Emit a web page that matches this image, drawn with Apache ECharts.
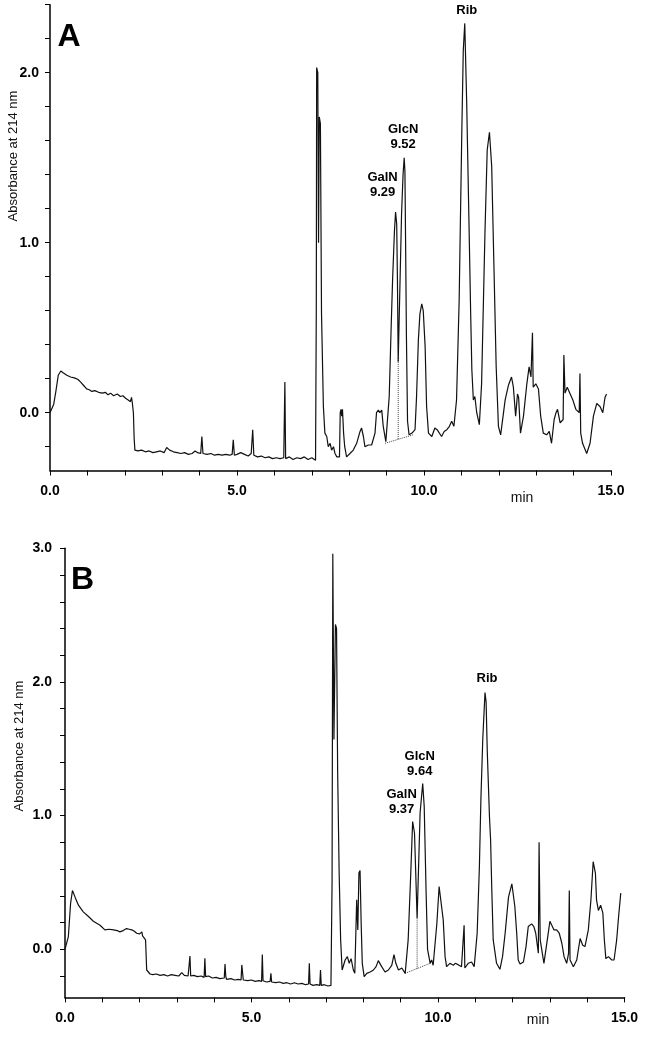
<!DOCTYPE html>
<html><head><meta charset="utf-8">
<script src="https://cdn.jsdelivr.net/npm/echarts@6/dist/echarts.min.js"></script>
<style>html,body{margin:0;padding:0;background:#fff}#c{width:669px;height:1050px}</style>
</head><body><div id="c"></div>
<script>
// ---- Panel A trace: [time (min), absorbance at 214 nm]
const traceA = [
[0.00,0.00],[0.05,0.01],[0.10,0.05],[0.16,0.13],[0.22,0.22],[0.29,0.245],[0.35,0.235],[0.45,0.22],[0.55,0.21],[0.65,0.205],[0.75,0.195],[0.82,0.18],[0.90,0.16],[0.98,0.14],[1.05,0.135],[1.12,0.125],[1.20,0.13],[1.30,0.12],[1.40,0.115],[1.48,0.12],[1.55,0.105],[1.62,0.115],[1.70,0.10],[1.80,0.11],[1.88,0.095],[1.95,0.10],[2.02,0.085],[2.09,0.075],[2.15,0.065],[2.18,0.09],[2.20,0.06],[2.23,0.0],[2.25,-0.15],[2.27,-0.22],
[2.35,-0.225],[2.45,-0.22],[2.55,-0.23],[2.65,-0.225],[2.75,-0.235],[2.85,-0.23],[2.95,-0.225],[3.05,-0.235],[3.12,-0.205],[3.20,-0.22],[3.30,-0.23],[3.40,-0.235],[3.50,-0.24],[3.60,-0.235],[3.70,-0.245],[3.80,-0.24],[3.88,-0.225],[3.95,-0.235],[4.03,-0.24],[4.06,-0.14],[4.09,-0.24],[4.20,-0.245],[4.30,-0.24],[4.40,-0.25],[4.50,-0.245],[4.60,-0.25],[4.70,-0.245],[4.80,-0.25],[4.87,-0.245],[4.90,-0.16],[4.93,-0.25],[5.00,-0.245],[5.10,-0.235],[5.20,-0.245],[5.30,-0.255],[5.38,-0.24],[5.42,-0.10],[5.45,-0.25],[5.55,-0.26],[5.65,-0.255],[5.75,-0.265],[5.85,-0.26],[5.95,-0.27],[6.05,-0.265],[6.15,-0.27],[6.25,-0.265],[6.27,-0.27],[6.28,0.18],[6.30,-0.27],[6.40,-0.26],[6.50,-0.275],[6.60,-0.265],[6.70,-0.27],[6.80,-0.26],[6.90,-0.275],[7.00,-0.265],[7.10,-0.28],
[7.12,0.6],[7.13,2.03],[7.16,2.0],[7.18,1.0],[7.20,1.74],[7.23,1.70],[7.26,0.58],[7.31,0.035],[7.35,-0.12],[7.40,-0.14],[7.44,-0.20],[7.49,-0.18],[7.53,-0.22],[7.58,-0.20],[7.62,-0.24],[7.67,-0.26],[7.74,-0.26],[7.76,0.0],[7.78,0.02],[7.80,-0.02],[7.82,0.02],[7.85,-0.12],[7.88,-0.20],[7.93,-0.26],[8.02,-0.24],[8.11,-0.22],[8.20,-0.18],[8.29,-0.11],[8.33,-0.09],[8.38,-0.14],[8.42,-0.20],[8.51,-0.19],[8.60,-0.19],[8.69,-0.12],[8.73,0.0],[8.78,0.015],[8.82,0.0],[8.87,0.015],[8.91,-0.08],[8.98,-0.17],[9.02,-0.18],[9.07,0.095],[9.12,0.49],[9.16,0.78],[9.21,1.07],[9.24,1.18],[9.27,1.11],[9.29,0.78],[9.31,0.30],[9.36,0.78],[9.40,1.17],[9.44,1.40],[9.47,1.50],[9.49,1.42],[9.51,0.95],[9.53,0.45],[9.56,-0.05],[9.60,-0.13],[9.64,-0.14],[9.68,-0.12],[9.72,-0.13],[9.76,-0.10],[9.80,0.09],[9.85,0.43],[9.89,0.58],[9.94,0.64],[9.98,0.60],[10.03,0.39],[10.07,0.035],[10.12,-0.12],[10.21,-0.14],[10.29,-0.09],[10.35,-0.10],[10.47,-0.14],[10.54,-0.11],[10.61,-0.10],[10.68,-0.08],[10.74,-0.05],[10.80,-0.08],[10.87,0.075],[10.94,0.66],[11.01,1.64],[11.05,2.13],[11.09,2.29],[11.14,1.84],[11.20,1.15],[11.25,0.56],[11.28,0.25],[11.32,0.075],[11.36,0.095],[11.41,0.0],[11.48,-0.07],[11.54,0.17],[11.63,1.06],[11.69,1.545],[11.75,1.65],[11.81,1.45],[11.87,0.86],[11.93,0.27],[11.99,-0.08],[12.05,-0.13],[12.17,0.075],[12.26,0.163],[12.34,0.21],[12.39,0.15],[12.45,-0.02],[12.50,0.11],[12.53,0.09],[12.58,-0.12],[12.66,-0.02],[12.75,0.17],[12.81,0.27],[12.86,0.21],[12.90,0.47],[12.92,0.15],[12.99,0.17],[13.06,0.14],[13.12,-0.02],[13.19,-0.12],[13.28,-0.13],[13.35,-0.11],[13.41,-0.18],[13.48,-0.04],[13.53,0.0],[13.57,0.02],[13.64,-0.06],[13.72,-0.04],[13.74,0.34],[13.77,0.115],[13.83,0.15],[13.90,0.115],[13.98,0.075],[14.06,0.02],[14.15,0.0],[14.17,0.23],[14.19,-0.12],[14.24,-0.18],[14.35,-0.24],[14.44,-0.18],[14.53,-0.02],[14.62,0.055],[14.71,0.035],[14.78,0.0],[14.84,0.09],[14.88,0.11]
];
// ---- Panel B trace
const traceB = [
[0.00,0.0],[0.03,0.0],[0.09,0.094],[0.15,0.344],[0.20,0.44],[0.27,0.39],[0.36,0.33],[0.49,0.28],[0.63,0.245],[0.76,0.21],[0.94,0.18],[1.07,0.145],[1.18,0.15],[1.30,0.145],[1.40,0.14],[1.47,0.13],[1.56,0.14],[1.65,0.155],[1.72,0.15],[1.79,0.145],[1.86,0.135],[1.92,0.12],[2.00,0.115],[2.04,0.11],[2.06,0.13],[2.08,0.10],[2.10,0.09],[2.16,0.07],[2.19,-0.155],[2.28,-0.185],
[2.35,-0.19],[2.45,-0.185],[2.55,-0.195],[2.65,-0.19],[2.75,-0.2],[2.85,-0.19],[2.95,-0.195],[3.05,-0.2],[3.13,-0.175],[3.20,-0.195],[3.30,-0.2],[3.33,-0.19],[3.35,-0.05],[3.37,-0.2],[3.45,-0.195],[3.55,-0.205],[3.65,-0.2],[3.73,-0.21],[3.75,-0.067],[3.77,-0.205],[3.85,-0.2],[3.95,-0.215],[4.05,-0.21],[4.15,-0.22],[4.27,-0.215],[4.29,-0.11],[4.31,-0.2],[4.33,-0.225],[4.45,-0.22],[4.55,-0.23],[4.65,-0.225],[4.72,-0.23],[4.74,-0.117],[4.76,-0.13],[4.78,-0.23],[4.90,-0.235],[5.00,-0.23],[5.10,-0.24],[5.20,-0.235],[5.27,-0.24],[5.29,-0.04],[5.31,-0.235],[5.40,-0.245],[5.50,-0.24],[5.52,-0.18],[5.54,-0.245],[5.65,-0.25],[5.75,-0.245],[5.85,-0.255],[5.95,-0.25],[6.05,-0.26],[6.15,-0.25],[6.25,-0.26],[6.35,-0.255],[6.45,-0.265],[6.53,-0.26],[6.55,-0.105],[6.57,-0.26],[6.65,-0.27],[6.75,-0.265],[6.83,-0.27],[6.85,-0.155],[6.87,-0.27],[6.95,-0.265],[7.05,-0.275],[7.13,-0.27],
[7.16,0.5],[7.18,2.96],[7.21,1.57],[7.25,2.43],[7.28,2.40],[7.31,1.32],[7.35,0.57],[7.39,0.07],[7.43,-0.155],[7.51,-0.08],[7.57,-0.055],[7.62,-0.105],[7.67,-0.07],[7.73,-0.155],[7.77,-0.18],[7.82,0.37],[7.85,0.145],[7.88,0.57],[7.91,0.59],[7.94,0.195],[7.97,-0.105],[8.02,-0.205],[8.09,-0.18],[8.18,-0.17],[8.27,-0.155],[8.34,-0.13],[8.40,-0.085],[8.49,-0.13],[8.58,-0.17],[8.67,-0.155],[8.76,-0.12],[8.82,-0.04],[8.87,-0.105],[8.94,-0.155],[9.03,-0.14],[9.12,-0.18],[9.20,0.07],[9.27,0.57],[9.32,0.955],[9.37,0.87],[9.39,0.69],[9.44,0.23],[9.52,1.02],[9.59,1.24],[9.63,1.07],[9.68,0.44],[9.72,0.0],[9.79,-0.105],[9.83,-0.08],[9.87,-0.12],[9.97,0.195],[10.03,0.47],[10.08,0.47],[10.14,0.22],[10.19,-0.055],[10.23,-0.13],[10.32,-0.105],[10.41,-0.12],[10.46,-0.105],[10.54,-0.115],[10.63,-0.13],[10.68,-0.13],[10.70,0.18],[10.72,-0.14],[10.81,-0.105],[10.90,-0.095],[10.97,-0.13],[11.05,0.12],[11.11,0.62],[11.15,1.12],[11.20,1.57],[11.26,1.92],[11.29,1.85],[11.32,1.49],[11.38,0.99],[11.41,0.82],[11.44,0.47],[11.48,0.07],[11.57,-0.105],[11.66,-0.15],[11.73,-0.055],[11.80,0.12],[11.89,0.39],[11.98,0.49],[12.06,0.32],[12.11,0.12],[12.15,-0.08],[12.20,-0.11],[12.29,-0.095],[12.36,0.02],[12.42,0.17],[12.51,0.19],[12.57,0.17],[12.62,0.12],[12.69,-0.03],[12.71,0.80],[12.74,0.07],[12.84,-0.105],[12.93,0.07],[13.00,0.21],[13.05,0.22],[13.11,0.145],[13.18,0.145],[13.25,0.12],[13.32,0.045],[13.38,-0.055],[13.45,-0.105],[13.50,-0.03],[13.52,0.44],[13.54,-0.08],[13.63,-0.13],[13.72,-0.08],[13.81,0.08],[13.88,0.03],[13.94,0.02],[14.03,0.145],[14.10,0.37],[14.16,0.655],[14.22,0.57],[14.25,0.37],[14.30,0.29],[14.36,0.33],[14.42,0.27],[14.46,0.07],[14.50,-0.07],[14.57,-0.055],[14.66,-0.08],[14.72,-0.08],[14.79,0.07],[14.84,0.24],[14.90,0.42]
];
// ---- labelled peaks (retention time as printed, apex location)
const peaksA = [
  {name:'Rib',  rt:'',     t:11.09, v:2.29},
  {name:'GlcN', rt:'9.52', t:9.47,  v:1.50},
  {name:'GalN', rt:'9.29', t:9.24,  v:1.18}
];
const peaksB = [
  {name:'Rib',  rt:'',     t:11.26, v:1.92},
  {name:'GlcN', rt:'9.64', t:9.59,  v:1.24},
  {name:'GalN', rt:'9.37', t:9.32,  v:0.955}
];
// ---- dotted integration baselines and drop lines
const baseA = [[8.96,-0.18],[9.71,-0.13]];
const dropA = [[9.31,-0.155],[9.31,0.32]];
const baseB = [[9.12,-0.18],[9.79,-0.105]];
const dropB = [[9.44,-0.145],[9.44,0.23]];
// ---- axis tick values
const xLabelVals = [0,5,10,15];
const yTicksA = [-0.2,0,0.2,0.4,0.6,0.8,1.0,1.2,1.4,1.6,1.8,2.0,2.2,2.4];
const yLabelsA = [0,1,2];
const yTicksB = [-0.2,0,0.2,0.4,0.6,0.8,1.0,1.2,1.4,1.6,1.8,2.0,2.2,2.4,2.6,2.8,3.0];
const yLabelsB = [0,1,2,3];

const FONT = '"Liberation Sans", Arial, Helvetica, sans-serif';
const offA = {Rib:[2,-13], GlcN:[-1,-21], GalN:[-13,-27]};
const offB = {Rib:[2,-14], GlcN:[-3,-20], GalN:[-11,-20]};

function xAxis(gi){
  return {gridIndex:gi, type:'value', min:0, max:15, interval:1,
    axisLine:{show:true, onZero:false, lineStyle:{color:'#000', width:1.5}},
    axisTick:{show:true, length:5, lineStyle:{color:'#000', width:1}},
    axisLabel:{customValues:xLabelVals, formatter:v=>Number(v).toFixed(1), color:'#000', fontWeight:'bold', fontSize:14, fontFamily:FONT, margin:14},
    splitLine:{show:false}};
}
function yAxis(gi, min, max, ticks, labels, margin){
  return {gridIndex:gi, type:'value', min:min, max:max,
    axisLine:{show:true, onZero:false, lineStyle:{color:'#000', width:1.5}},
    axisTick:{show:true, length:5, customValues:ticks, lineStyle:{color:'#000', width:1}},
    axisLabel:{customValues:labels, formatter:v=>Number(v).toFixed(1), color:'#000', fontWeight:'bold', fontSize:14, fontFamily:FONT, margin:margin},
    splitLine:{show:false}};
}
function marks(peaks, off){
  return {symbol:'circle', symbolSize:1, itemStyle:{color:'rgba(0,0,0,0)'}, animation:false,
    data: peaks.map(p=>({coord:[p.t,p.v],
      label:{show:true, position:'inside', formatter: p.rt ? p.name+'\n'+p.rt : p.name,
        offset:off[p.name], color:'#000', fontWeight:'bold', fontSize:13, lineHeight:15, fontFamily:FONT, align:'center', verticalAlign:'middle'}}))};
}
function trace(gi, data, peaks, off){
  return {type:'line', xAxisIndex:gi, yAxisIndex:gi, data:data, showSymbol:false, symbol:'none',
    lineStyle:{color:'#111', width:1.2}, silent:true, z:3, markPoint:marks(peaks, off)};
}
function dotted(gi, data){
  return {type:'line', xAxisIndex:gi, yAxisIndex:gi, data:data, showSymbol:false, symbol:'none',
    lineStyle:{color:'#444', width:1, type:'dotted'}, silent:true, z:2};
}

const chart = echarts.init(document.getElementById('c'), null, {renderer:'canvas'});
chart.setOption({
  animation:false,
  backgroundColor:'#fff',
  grid:[
    {left:50, top:4.7, width:561, height:465.8},
    {left:65, top:548.3, width:559.5, height:449.1}
  ],
  xAxis:[xAxis(0), xAxis(1)],
  yAxis:[yAxis(0,-0.34,2.4,yTicksA,yLabelsA,11), yAxis(1,-0.36,3.0,yTicksB,yLabelsB,13)],
  series:[
    trace(0, traceA, peaksA, offA), dotted(0, baseA), dotted(0, dropA),
    trace(1, traceB, peaksB, offB), dotted(1, baseB), dotted(1, dropB)
  ],
  graphic:[
    {type:'text', x:69, y:37, style:{text:'A', fill:'#000', font:'bold 32px '+FONT, align:'center', verticalAlign:'middle'}},
    {type:'text', x:82.5, y:580, style:{text:'B', fill:'#000', font:'bold 32px '+FONT, align:'center', verticalAlign:'middle'}},
    {type:'text', x:13.5, y:156, rotation:Math.PI/2, style:{text:'Absorbance at 214 nm', fill:'#111', font:'13px '+FONT, align:'center', verticalAlign:'middle'}},
    {type:'text', x:19, y:746, rotation:Math.PI/2, style:{text:'Absorbance at 214 nm', fill:'#111', font:'13px '+FONT, align:'center', verticalAlign:'middle'}},
    {type:'text', x:522, y:498, style:{text:'min', fill:'#111', font:'14px '+FONT, align:'center', verticalAlign:'middle'}},
    {type:'text', x:538, y:1020, style:{text:'min', fill:'#111', font:'14px '+FONT, align:'center', verticalAlign:'middle'}}
  ]
});
</script></body></html>
